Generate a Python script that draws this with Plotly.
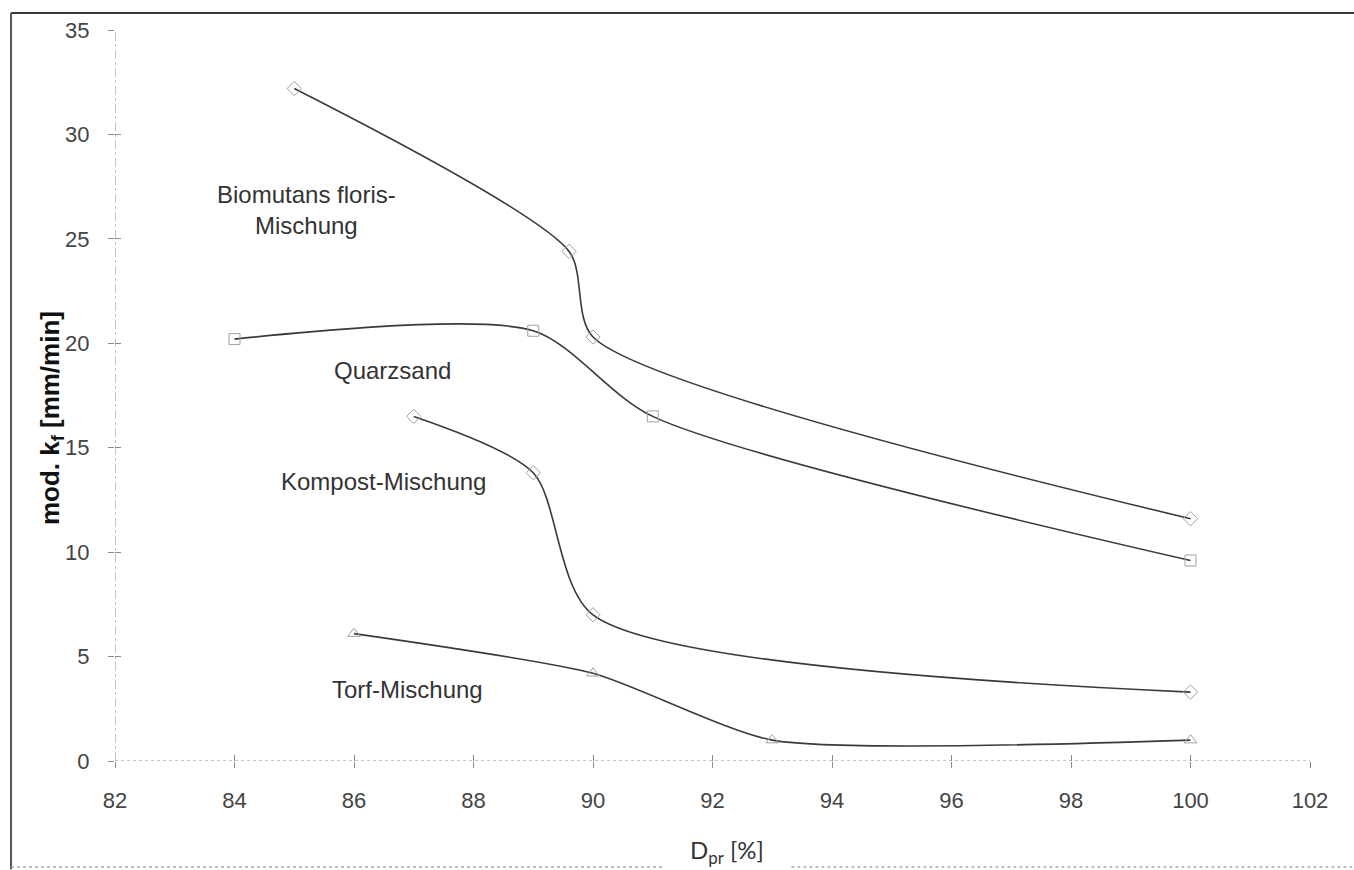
import plotly.graph_objects as go

# ---- data ----
bio_x = [85, 89.6, 90, 100]
bio_y = [32.2, 24.4, 20.3, 11.6]

quarz_x = [84, 89, 91, 100]
quarz_y = [20.2, 20.6, 16.5, 9.6]

kompost_x = [87, 89, 90, 100]
kompost_y = [16.5, 13.8, 7.0, 3.3]

torf_x = [86, 90, 93, 100]
torf_y = [6.1, 4.2, 1.0, 1.0]

x_ticks = [82, 84, 86, 88, 90, 92, 94, 96, 98, 100, 102]
y_ticks = [0, 5, 10, 15, 20, 25, 30, 35]

labels = [
    ("Biomutans floris-<br>Mischung", 85.2, 26.4),
    ("Quarzsand", 86.64, 18.7),
    ("Kompost-Mischung", 86.5, 13.4),
    ("Torf-Mischung", 86.9, 3.4),
]

series = [
    (bio_x, bio_y, "diamond-open", 0.7),
    (quarz_x, quarz_y, "square-open", 0.75),
    (kompost_x, kompost_y, "diamond-open", 0.75),
    (torf_x, torf_y, "triangle-up-open", 0.6),
]

LINE = "#3a3a3a"
MARK = "#a0a0a0"
AX = "#8a8a8a"
FONT = "Liberation Sans, Arial, sans-serif"

fig = go.Figure()
for xs, ys, sym, sm in series:
    fig.add_trace(go.Scatter(
        x=xs, y=ys, mode="lines+markers",
        line=dict(color=LINE, width=1.6, shape="spline", smoothing=sm),
        marker=dict(symbol=sym, size=11, color=MARK, line=dict(color=MARK, width=1)),
        showlegend=False, hoverinfo="x+y",
    ))

# invisible trace to keep the overlay axes (inner tick halves) alive
fig.add_trace(go.Scatter(x=[x_ticks[0]], y=[y_ticks[0]], xaxis="x2", yaxis="y2",
                         mode="markers", marker=dict(opacity=0), showlegend=False,
                         hoverinfo="skip"))

for text, x, y in labels:
    fig.add_annotation(x=x, y=y, xref="x", yref="y", text=text, showarrow=False,
                       font=dict(family=FONT, size=24, color="#333333"),
                       align="center")

# y-axis title (placed slightly below centre, as in the reference)
fig.add_annotation(x=-0.0536, y=0.469, xref="paper", yref="paper",
                   text="<b>mod. k<sub>f</sub> [mm/min]</b>", textangle=-90,
                   showarrow=False, xanchor="center", yanchor="middle",
                   font=dict(family=FONT, size=26, color="#111111"))

# x-axis title
fig.add_annotation(x=0.512, y=-0.124, xref="paper", yref="paper",
                   text="D<sub>pr</sub> [%]", showarrow=False,
                   font=dict(family="Lato, Open Sans, sans-serif", size=24, color="#333333"),
                   yanchor="middle")

# axis lines (dotted, as in the reference)
fig.add_shape(type="line", xref="x", yref="y", x0=x_ticks[0], x1=x_ticks[0],
              y0=y_ticks[0], y1=y_ticks[-1], line=dict(color=AX, width=1, dash="dashdot"),
              layer="below")
fig.add_shape(type="line", xref="x", yref="y", x0=x_ticks[0], x1=x_ticks[-1],
              y0=y_ticks[0], y1=y_ticks[0], line=dict(color=AX, width=1, dash="dot"),
              layer="below")

# outer frame: top and left solid, bottom dotted with a gap for the title
fig.add_shape(type="line", xref="paper", yref="paper", x0=-0.087, x1=1.04,
              y0=1.0233, y1=1.0233, line=dict(color="#3a3a3a", width=2))
fig.add_shape(type="line", xref="paper", yref="paper", x0=-0.087, x1=-0.087,
              y0=1.0233, y1=-0.148, line=dict(color="#555555", width=2))
fig.add_shape(type="line", xref="paper", yref="paper", x0=-0.087, x1=0.459,
              y0=-0.145, y1=-0.145, line=dict(color="#aaaaaa", width=1.5, dash="dot"))
fig.add_shape(type="line", xref="paper", yref="paper", x0=0.566, x1=1.04,
              y0=-0.145, y1=-0.145, line=dict(color="#aaaaaa", width=1.5, dash="dot"))

tickfont = dict(family=FONT, size=22, color="#444444")

fig.update_layout(
    width=1354, height=870,
    margin=dict(l=115, r=44, t=30, b=109),
    paper_bgcolor="white", plot_bgcolor="white",
    xaxis=dict(range=[x_ticks[0], x_ticks[-1]], tickvals=x_ticks,
               ticks="outside", ticklen=6, tickcolor=AX, tickwidth=1,
               tickfont=tickfont, showgrid=False, zeroline=False, showline=False,
               ticklabelstandoff=14),
    yaxis=dict(range=[y_ticks[0], y_ticks[-1]], tickvals=y_ticks,
               ticks="outside", ticklen=6, tickcolor=AX, tickwidth=1,
               tickfont=tickfont, showgrid=False, zeroline=False, showline=False,
               ticklabelstandoff=14),
    xaxis2=dict(range=[x_ticks[0], x_ticks[-1]], tickvals=x_ticks, overlaying="x",
                ticks="inside", ticklen=6, tickcolor=AX, tickwidth=1,
                showticklabels=False, showgrid=False, zeroline=False, showline=False),
    yaxis2=dict(range=[y_ticks[0], y_ticks[-1]], tickvals=y_ticks, overlaying="y",
                ticks="inside", ticklen=6, tickcolor=AX, tickwidth=1,
                showticklabels=False, showgrid=False, zeroline=False, showline=False),
)

fig.write_html("out.html")
